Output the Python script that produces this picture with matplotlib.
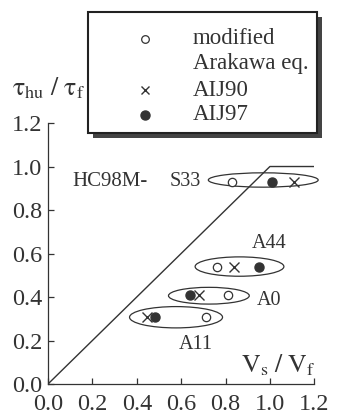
import numpy as np
import matplotlib.pyplot as plt
from matplotlib.patches import Ellipse, Rectangle
from matplotlib.lines import Line2D

plt.rcParams['font.family'] = ['Liberation Serif', 'DejaVu Serif']
plt.rcParams['mathtext.fontset'] = 'stix'

# specimens: S33, A44, A0, A11
specimens = ['S33', 'A44', 'A0', 'A11']
tau_ratio = [0.93, 0.54, 0.41, 0.31]
vs_modified = [0.83, 0.76, 0.81, 0.71]
vs_aij90 = [1.11, 0.84, 0.68, 0.445]
vs_aij97 = [1.01, 0.95, 0.64, 0.48]

# bound line tau/tau_f = min(Vs/Vf, 1)
bound_x = [0.0, 1.0, 1.2]
bound_y = [0.0, 1.0, 1.0]

col = '#333333'
fig = plt.figure(figsize=(3.43, 4.17), dpi=100)
ax = fig.add_axes([0.1399, 0.0791, 0.9163 - 0.1399, 0.705 - 0.0791])

ax.plot(bound_x, bound_y, color=col, lw=1.0)

# group ellipses (center x, center y, width, height)
groups = [(0.97, 0.938, 0.495, 0.066),
          (0.863, 0.54, 0.40, 0.089),
          (0.725, 0.406, 0.364, 0.077),
          (0.577, 0.307, 0.419, 0.098)]
for cx, cy, w, h in groups:
    ax.add_patch(Ellipse((cx, cy), w, h, fill=False, ec=col, lw=0.9, clip_on=False))

ax.plot(vs_modified, tau_ratio, 'o', ms=6, mfc='white', mec=col, mew=0.9, ls='none', clip_on=False)
ax.plot(vs_aij90, tau_ratio, 'x', ms=6.5, color=col, mew=1.0, ls='none', clip_on=False)
ax.plot(vs_aij97, tau_ratio, 'o', ms=6.5, color=col, ls='none', clip_on=False)

fs = 16.5
lfs = 14.5
ax.text(0.11, 0.93, 'HC98M-', fontsize=15, color=col, va='center', ha='left')
ax.text(0.55, 0.93, 'S33', fontsize=lfs, color=col, va='center', ha='left')
ax.text(0.92, 0.648, 'A44', fontsize=lfs, color=col, va='center', ha='left')
ax.text(0.94, 0.386, 'A0', fontsize=lfs, color=col, va='center', ha='left')
ax.text(0.59, 0.18, 'A11', fontsize=lfs, color=col, va='center', ha='left')
ax.text(0.87, 0.055, r'$\mathrm{V_s\ /\ V_f}$', fontsize=fs + 2, color=col, va='baseline', ha='left')

ax.set_xlim(0, 1.2)
ax.set_ylim(0, 1.2)
ticks = [0.0, 0.2, 0.4, 0.6, 0.8, 1.0, 1.2]
ax.set_xticks(ticks)
ax.set_yticks(ticks)
ax.set_xticklabels(['%.1f' % t for t in ticks])
ax.set_yticklabels(['%.1f' % t for t in ticks])
ax.tick_params(direction='in', length=4, width=0.9, color=col, labelcolor=col, labelsize=17.5, pad=4)
ax.tick_params(axis='x', pad=7)
for s in ['top', 'right']:
    ax.spines[s].set_visible(False)
for s in ['left', 'bottom']:
    ax.spines[s].set_color(col)
    ax.spines[s].set_linewidth(0.9)

# y label above the axis
fig.text(12 / 343, 1 - 88 / 417, r'$\mathrm{\tau_{hu}\ /\ \tau_f}$', fontsize=fs + 2, color=col,
         va='center', ha='left')

# legend box with shadow
W, H = 343.0, 417.0
fig.patches.append(Rectangle((93 / W, 1 - 138 / H), 229 / W, 121 / H, transform=fig.transFigure,
                             fc='#444444', ec='none', zorder=5))
fig.patches.append(Rectangle((88 / W, 1 - 133 / H), 229 / W, 121 / H, transform=fig.transFigure,
                             fc='white', ec='#222222', lw=1.5, zorder=6))
rows = [(39, 'o_open', 'modified'), (64, None, 'Arakawa eq.'), (90, 'x', 'AIJ90'), (115, 'o', 'AIJ97')]
for yy, mk, label in rows:
    fy = 1 - yy / H
    if mk == 'o_open':
        fig.add_artist(Line2D([145 / W], [fy], marker='o', ms=5.5, mfc='white', mec=col, mew=0.9,
                              transform=fig.transFigure, zorder=7))
    elif mk == 'x':
        fig.add_artist(Line2D([145 / W], [fy], marker='x', ms=6, color=col, mew=1.0,
                              transform=fig.transFigure, zorder=7))
    elif mk == 'o':
        fig.add_artist(Line2D([145 / W], [fy], marker='o', ms=6.5, color=col,
                              transform=fig.transFigure, zorder=7))
    fig.text(193 / W, fy, label, fontsize=fs, color=col, va='center', ha='left', zorder=7)

fig.savefig('out.png', dpi=100)
plt.close()
